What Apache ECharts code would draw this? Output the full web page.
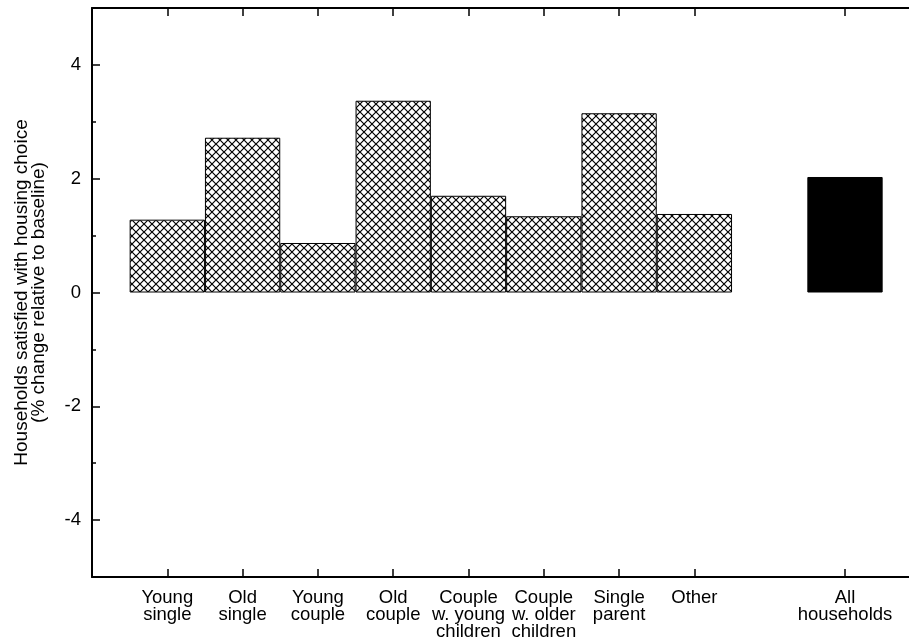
<!DOCTYPE html>
<html>
<head>
<meta charset="utf-8">
<script src="https://cdn.jsdelivr.net/npm/echarts@6/dist/echarts.min.js"></script>
<style>html,body{margin:0;padding:0;background:#fff}#c{width:909px;height:643px}</style>
</head>
<body>
<div id="c"></div>
<script>
const categories = ['Young\nsingle', 'Old\nsingle', 'Young\ncouple', 'Old\ncouple', 'Couple\nw. young\nchildren', 'Couple\nw. older\nchildren', 'Single\nparent', 'Other', 'All\nhouseholds'];
const slots = [1, 2, 3, 4, 5, 6, 7, 8, 10];
const values = [1.28, 2.72, 0.87, 3.37, 1.70, 1.34, 3.15, 1.38, 2.03];
const yTickLabels = [-4, -2, 0, 2, 4];

const FONT = 'Liberation Sans, Arial, sans-serif';
const GRID = {left: 92, right: 0, top: 8, bottom: 66};
const XMIN = 0, XMAX = 10.85;
const plotW = 909 - GRID.left - GRID.right;
const slotPx = plotW / (XMAX - XMIN);

function hatch() {
  const s = 8;
  const c = document.createElement('canvas');
  c.width = s; c.height = s;
  const g = c.getContext('2d');
  g.fillStyle = '#fff'; g.fillRect(0, 0, s, s);
  g.strokeStyle = '#000'; g.lineWidth = 1.2;
  g.beginPath();
  g.moveTo(-1, -1); g.lineTo(s + 1, s + 1);
  g.moveTo(-1, s + 1); g.lineTo(s + 1, -1);
  g.stroke();
  return c;
}
const pattern = {image: hatch(), repeat: 'repeat'};

const labelMap = {};
slots.forEach((p, i) => { labelMap[p] = categories[i]; });

const data = slots.map((p, i) => {
  const last = i === slots.length - 1;
  return {
    value: [p, values[i]],
    itemStyle: last ? {color: '#000', borderColor: '#000'} : {color: pattern, borderColor: '#000'}
  };
});

const chart = echarts.init(document.getElementById('c'), null, {renderer: 'canvas'});
chart.setOption({
  animation: false,
  backgroundColor: '#fff',
  grid: GRID,
  xAxis: [
    {
      type: 'value', position: 'bottom', min: XMIN, max: XMAX,
      axisLine: {show: true, onZero: false, lineStyle: {color: '#000', width: 2}},
      axisTick: {show: true, inside: true, length: 8, customValues: slots, lineStyle: {color: '#000', width: 1.5}},
      axisLabel: {show: true, customValues: slots, formatter: v => labelMap[v] || '', color: '#000',
        fontFamily: FONT, fontSize: 18.5, lineHeight: 17, margin: 12, verticalAlign: 'top'},
      splitLine: {show: false}
    },
    {
      type: 'value', position: 'top', min: XMIN, max: XMAX,
      axisLine: {show: true, onZero: false, lineStyle: {color: '#000', width: 2}},
      axisTick: {show: true, inside: true, length: 8, customValues: slots, lineStyle: {color: '#000', width: 1.5}},
      axisLabel: {show: false},
      splitLine: {show: false}
    }
  ],
  yAxis: [
    {
      type: 'value', position: 'left', min: -5, max: 5, interval: 1,
      axisLine: {show: true, onZero: false, lineStyle: {color: '#000', width: 2}},
      axisTick: {show: true, inside: true, length: 4, lineStyle: {color: '#000', width: 1.5}},
      axisLabel: {show: false},
      splitLine: {show: false}
    },
    {
      type: 'value', position: 'left', min: -5, max: 5, interval: 1,
      axisLine: {show: false},
      axisTick: {show: true, inside: true, length: 8, customValues: yTickLabels, lineStyle: {color: '#000', width: 1.5}},
      axisLabel: {show: true, customValues: yTickLabels, color: '#000', fontFamily: FONT, fontSize: 18.5, margin: 11},
      splitLine: {show: false},
      name: 'Households satisfied with housing choice\n(% change relative to baseline)',
      nameLocation: 'middle', nameRotate: 90, nameGap: 45,
      nameTextStyle: {color: '#000', fontFamily: FONT, fontSize: 19, lineHeight: 17, align: 'center'}
    }
  ],
  series: [{
    type: 'bar',
    xAxisIndex: 0, yAxisIndex: 0,
    barWidth: slotPx,
    data: data,
    itemStyle: {borderWidth: 1, borderColor: '#000'}
  }]
});
</script>
</body>
</html>
